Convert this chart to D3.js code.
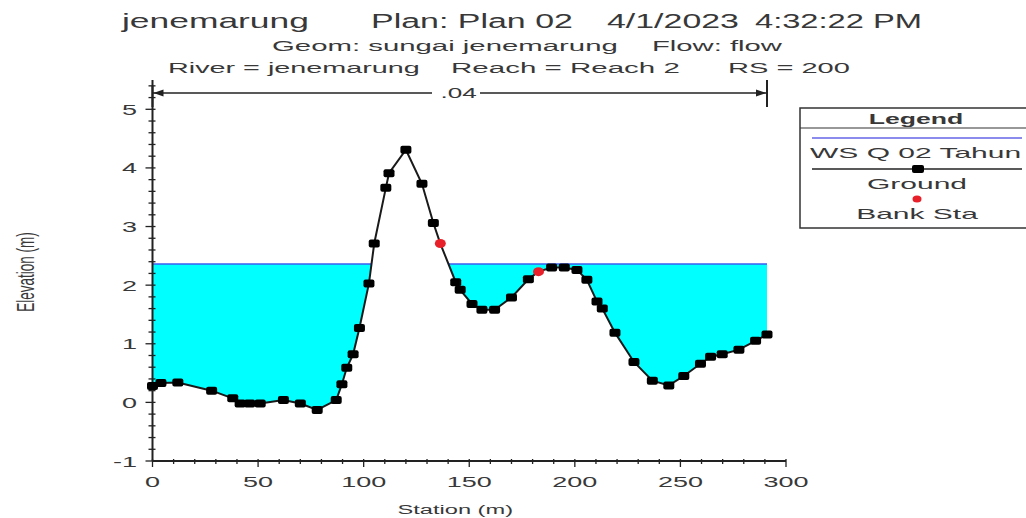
<!DOCTYPE html>
<html>
<head>
<meta charset="utf-8">
<script src="https://cdn.jsdelivr.net/npm/d3@7/dist/d3.min.js"></script>
<style>
  html, body { margin: 0; padding: 0; background: #fff; }
  svg { display: block; }
  text { font-family: "Liberation Sans", Arial, sans-serif; fill: #383838; }
</style>
</head>
<body>
<svg id="chart" width="1026" height="518"></svg>
<script>
// Cross section RS 200 (jenemarung, Reach 2)
const stations   = [0, 4, 12, 28, 38, 41.5, 46, 51, 62, 70, 78, 87, 89.7, 92, 95, 98, 102.5, 105, 110.5, 112, 120, 127.6, 133, 136.3, 143.6, 145.7, 151.3, 156, 162, 170, 178, 182.8, 189, 195, 201, 205.7, 210.5, 213, 219, 228, 236.7, 244.5, 251.6, 259.5, 264.3, 269.8, 277.7, 285.6, 291];
const elevations = [0.28, 0.33, 0.34, 0.20, 0.07, -0.02, -0.02, -0.02, 0.04, -0.02, -0.13, 0.04, 0.31, 0.59, 0.82, 1.27, 2.03, 2.71, 3.66, 3.91, 4.31, 3.73, 3.06, 2.71, 2.05, 1.92, 1.68, 1.58, 1.58, 1.79, 2.10, 2.23, 2.30, 2.30, 2.26, 2.09, 1.72, 1.60, 1.19, 0.69, 0.37, 0.29, 0.45, 0.66, 0.78, 0.82, 0.90, 1.05, 1.16];
const bankStations = [136.3, 182.8];
const wsElevation = 2.36;            // WS Q 02 Tahun
const manningN = [".04"];
const xTicks = [0, 50, 100, 150, 200, 250, 300];
const yTicks = [-1, 0, 1, 2, 3, 4, 5];
const titleParts = ["jenemarung", "Plan: Plan 02", "4/1/2023", "4:32:22 PM"];
const subtitle1 = ["Geom: sungai jenemarung", "Flow: flow"];
const subtitle2 = ["River = jenemarung", "Reach = Reach 2", "RS = 200"];
const legendItems = ["WS Q 02 Tahun", "Ground", "Bank Sta"];

const SX = 1.8; // horizontal glyph stretch used throughout the plot
const svg = d3.select("#chart");

const x = d3.scaleLinear().domain([0, 300]).range([152.5, 786]);
const y = d3.scaleLinear().domain([-1, 5]).range([461, 109.3]);
const yTop = 5.4;

const ground = stations.map((s, i) => ({ s, e: elevations[i] }));

// text helper: anchored at (px,py), stretched horizontally
function stext(str, px, py, size, anchor, sx, extra) {
  return svg.append("text")
    .attr("transform", `translate(${px},${py}) scale(${sx},1)` + (extra || ""))
    .attr("font-size", size)
    .attr("text-anchor", anchor || "start")
    .text(str);
}
// text fitted to a horizontal span
function spanText(str, x0, x1, py, size) {
  const t = svg.append("text").attr("font-size", size).text(str);
  const w = t.node().getComputedTextLength();
  t.attr("transform", `translate(${x0},${py}) scale(${(x1 - x0) / w},1)`);
  return t;
}

// ---- titles ----
spanText(titleParts[0], 122, 309, 28, 21);
spanText(titleParts[1], 371, 573, 28, 21);
spanText(titleParts[2], 607, 739, 28, 21);
spanText(titleParts[3], 755, 922, 28, 21);
spanText(subtitle1[0], 272, 618, 51, 14.5);
spanText(subtitle1[1], 652, 782, 51, 14.5);
spanText(subtitle2[0], 168, 420, 73, 15);
spanText(subtitle2[1], 451, 680, 73, 15);
spanText(subtitle2[2], 728, 850, 73, 15);

// ---- water surface fill (below WS, above ground) ----
const polys = [];
let cur = null;
ground.forEach((p, i) => {
  if (i === 0 && p.e < wsElevation) cur = [[p.s, wsElevation]];
  if (i > 0) {
    const q = ground[i - 1];
    if ((q.e < wsElevation) !== (p.e < wsElevation)) {
      const t = (wsElevation - q.e) / (p.e - q.e);
      const sc = q.s + t * (p.s - q.s);
      if (p.e < wsElevation) cur = [[sc, wsElevation]];
      else { cur.push([sc, wsElevation]); polys.push(cur); cur = null; }
    }
  }
  if (p.e < wsElevation) cur.push([p.s, p.e]);
});
if (cur) { cur.push([ground[ground.length - 1].s, wsElevation]); polys.push(cur); }

const plotLine = d3.line().x(d => x(d[0])).y(d => y(d[1]));
svg.append("g").selectAll("path.water").data(polys).join("path")
  .attr("d", d => plotLine(d) + "Z")
  .attr("fill", "#00ffff").attr("stroke", "none");
svg.append("g").selectAll("line.ws").data(polys).join("line")
  .attr("x1", d => x(d[0][0])).attr("x2", d => x(d[d.length - 1][0]))
  .attr("y1", y(wsElevation)).attr("y2", y(wsElevation))
  .attr("stroke", "#3b5cf0").attr("stroke-width", 1.5);

// ---- axes ----
const ax = svg.append("g").attr("stroke", "#222").attr("fill", "none");
ax.append("line").attr("x1", x(0)).attr("x2", x(0)).attr("y1", y(-1)).attr("y2", y(yTop)).attr("stroke-width", 2);
ax.append("line").attr("x1", x(0)).attr("x2", x(300)).attr("y1", y(-1)).attr("y2", y(-1)).attr("stroke-width", 2);
d3.range(-1, yTop + 0.001, 0.2).forEach(v => {
  const major = Math.abs(v - Math.round(v)) < 1e-6;
  ax.append("line").attr("x1", x(0) - (major ? 7 : 4)).attr("x2", x(0) + 3)
    .attr("y1", y(v)).attr("y2", y(v)).attr("stroke-width", 1.3);
});
d3.range(0, 300.001, 10).forEach(v => {
  const major = v % 50 === 0;
  ax.append("line").attr("x1", x(v)).attr("x2", x(v))
    .attr("y1", y(-1) - 2).attr("y2", y(-1) + (major ? 6 : 3)).attr("stroke-width", 1.3);
});
yTicks.forEach(v => stext(String(v), 137, y(v) + 5.5, 15, "end", SX));
xTicks.forEach(v => stext(String(v), x(v), 487, 15, "middle", SX));
stext("Station (m)", x(0) + (x(300) - x(0)) / 2 - 14, 514, 13.5, "middle", 1.75);
stext("Elevation (m)", 34, 272, 13.5, "middle", 1.8, " rotate(-90)");

// ---- Manning's n extent ----
const nY = 93;
const nx0 = x(stations[0]), nx1 = x(stations[stations.length - 1]);
const ng = svg.append("g").attr("stroke", "#222");
ng.append("line").attr("x1", nx0).attr("x2", nx0).attr("y1", 80).attr("y2", 107).attr("stroke-width", 2);
ng.append("line").attr("x1", nx1).attr("x2", nx1).attr("y1", 80).attr("y2", 107).attr("stroke-width", 2);
ng.append("line").attr("x1", nx0).attr("x2", 432).attr("y1", nY).attr("y2", nY).attr("stroke-width", 1.3);
ng.append("line").attr("x1", 480).attr("x2", nx1).attr("y1", nY).attr("y2", nY).attr("stroke-width", 1.3);
ng.append("path").attr("d", `M${nx0 + 1},${nY} l10,-3.5 l0,7 Z`).attr("fill", "#222").attr("stroke", "none");
ng.append("path").attr("d", `M${nx1 - 1},${nY} l-10,-3.5 l0,7 Z`).attr("fill", "#222").attr("stroke", "none");
stext(manningN[0], (nx0 + nx1) / 2 - 1, 98, 14.5, "middle", SX);

// ---- ground line + markers (bank stations get the red marker instead) ----
svg.append("path").datum(ground)
  .attr("d", d3.line().x(d => x(d.s)).y(d => y(d.e)))
  .attr("fill", "none").attr("stroke", "#1a1a1a").attr("stroke-width", 2);
svg.append("g").selectAll("rect").data(ground.filter(d => !bankStations.includes(d.s))).join("rect")
  .attr("x", d => x(d.s) - 5.5).attr("y", d => y(d.e) - 4)
  .attr("width", 11).attr("height", 8).attr("rx", 2)
  .attr("fill", "#000");
svg.append("g").selectAll("ellipse").data(bankStations).join("ellipse")
  .attr("cx", s => x(s)).attr("cy", s => y(elevations[stations.indexOf(s)]))
  .attr("rx", 5.5).attr("ry", 4.5).attr("fill", "#e8202a");

// ---- legend ----
const lg = svg.append("g");
lg.append("rect").attr("x", 800).attr("y", 108).attr("width", 260).attr("height", 120)
  .attr("fill", "#fff").attr("stroke", "#333").attr("stroke-width", 1.5);
lg.append("line").attr("x1", 800).attr("x2", 1040).attr("y1", 128).attr("y2", 128).attr("stroke", "#333").attr("stroke-width", 1.2);
stext("Legend", 916, 124, 14, "middle", 1.9).attr("font-weight", "bold");
lg.append("line").attr("x1", 812).attr("x2", 1022).attr("y1", 138).attr("y2", 138).attr("stroke", "#6464e8").attr("stroke-width", 1.3);
stext(legendItems[0], 810, 158, 15, "start", 2.0);
lg.append("line").attr("x1", 812).attr("x2", 1022).attr("y1", 169).attr("y2", 169).attr("stroke", "#222").attr("stroke-width", 1.3);
lg.append("rect").attr("x", 912).attr("y", 165).attr("width", 12).attr("height", 8).attr("rx", 2).attr("fill", "#000");
stext(legendItems[1], 917, 189, 15, "middle", 2.0);
lg.append("ellipse").attr("cx", 917).attr("cy", 199).attr("rx", 4.5).attr("ry", 3.5).attr("fill", "#e8202a");
stext(legendItems[2], 917, 219, 15, "middle", 2.0);
</script>
</body>
</html>
